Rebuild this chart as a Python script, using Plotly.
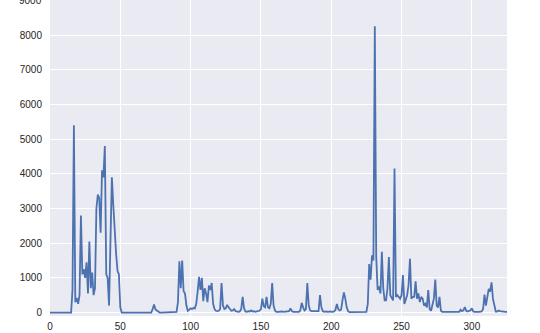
import plotly.graph_objects as go

# Series values (index 0..325)
values = [
    0, 0, 0, 0, 0, 0, 0, 0, 0, 0,
    0, 0, 0, 0, 0, 0, 650, 5400, 300, 420,
    250, 500, 2800, 1100, 1250, 1000, 1450, 550, 2050, 700,
    1150, 500, 700, 3000, 3400, 3300, 2300, 4100, 3900, 4800,
    1100, 1000, 200, 1800, 3900, 3100, 2200, 1700, 1200, 1100,
    150, 0, 0, 0, 0, 0, 0, 0, 0, 0,
    0, 0, 0, 0, 0, 0, 0, 0, 0, 0,
    0, 0, 0, 100, 230, 90, 50, 10, 0, 0,
    0, 0, 0, 0, 0, 0, 0, 0, 0, 0,
    20, 300, 1480, 700, 1500, 620, 550, 200, 50, 80,
    120, 100, 130, 120, 250, 600, 1030, 650, 1000, 330,
    700, 550, 300, 780, 650, 850, 250, 100, 50, 40,
    50, 100, 850, 200, 100, 120, 220, 150, 80, 50,
    60, 100, 40, 20, 20, 30, 100, 450, 120, 30,
    20, 40, 30, 60, 30, 40, 20, 30, 40, 50,
    100, 400, 180, 150, 450, 150, 120, 250, 850, 200,
    60, 20, 20, 30, 20, 30, 20, 20, 30, 20,
    40, 120, 40, 20, 20, 20, 20, 20, 60, 280,
    150, 60, 100, 850, 200, 60, 40, 40, 40, 40,
    40, 40, 500, 150, 40, 20, 30, 20, 20, 30,
    20, 20, 30, 80, 250, 100, 60, 80, 350, 580,
    400, 150, 40, 10, 10, 10, 10, 10, 10, 10,
    10, 10, 10, 10, 10, 20, 250, 1400, 950, 1650,
    1500, 8250, 1600, 650, 750, 550, 1750, 700, 350, 350,
    700, 1600, 500, 400, 350, 4150, 450, 500, 450, 400,
    500, 1080, 250, 350, 500, 800, 1550, 400, 450, 450,
    900, 400, 550, 300, 450, 400, 200, 250, 150, 650,
    100, 50, 200, 400, 950, 200, 150, 450, 50, 20,
    20, 30, 20, 20, 30, 20, 20, 30, 20, 20,
    30, 20, 80, 40, 60, 160, 50, 30, 50, 60,
    120, 30, 20, 30, 20, 20, 30, 30, 100, 520,
    200, 500, 680, 600, 870, 400, 150, 30, 30, 60,
    40, 30, 30, 20, 20, 20,
]
index = list(range(len(values)))

x_ticks = [0, 50, 100, 150, 200, 250, 300]
y_ticks = [0, 1000, 2000, 3000, 4000, 5000, 6000, 7000, 8000, 9000]

fig = go.Figure()
fig.add_trace(go.Scatter(
    x=index, y=values, mode="lines",
    line=dict(color="#4C72B0", width=1.8),
    showlegend=False, hoverinfo="skip",
))

fig.update_layout(
    width=540, height=333,
    margin=dict(l=50, r=33, t=0, b=17),
    paper_bgcolor="white",
    plot_bgcolor="#EAEAF2",
    font=dict(family="Liberation Sans, Arial, sans-serif", size=10, color="#262626"),
)
fig.update_xaxes(
    range=[0, len(values) - 1],
    tickvals=x_ticks,
    ticktext=[str(t) for t in x_ticks],
    showgrid=True, gridcolor="white", gridwidth=1,
    zeroline=False, showline=False, ticks="",
    ticklabelstandoff=3,
)
fig.update_yaxes(
    range=[-100, 9010],
    tickvals=y_ticks,
    ticktext=[str(t) for t in y_ticks],
    showgrid=True, gridcolor="white", gridwidth=1,
    zeroline=False, showline=False, ticks="",
    ticklabelstandoff=7,
)

# The top tick label sits on the (cropped) top edge of the figure; draw it
# explicitly so it remains partly visible as in the reference.
fig.add_annotation(
    text=str(y_ticks[-1]), xref="paper", x=0, xanchor="right", xshift=-6,
    yref="y", y=y_ticks[-1], yanchor="middle", showarrow=False,
    font=dict(family="Liberation Sans, Arial, sans-serif", size=10, color="#262626"),
)

fig.write_html("out.html")
